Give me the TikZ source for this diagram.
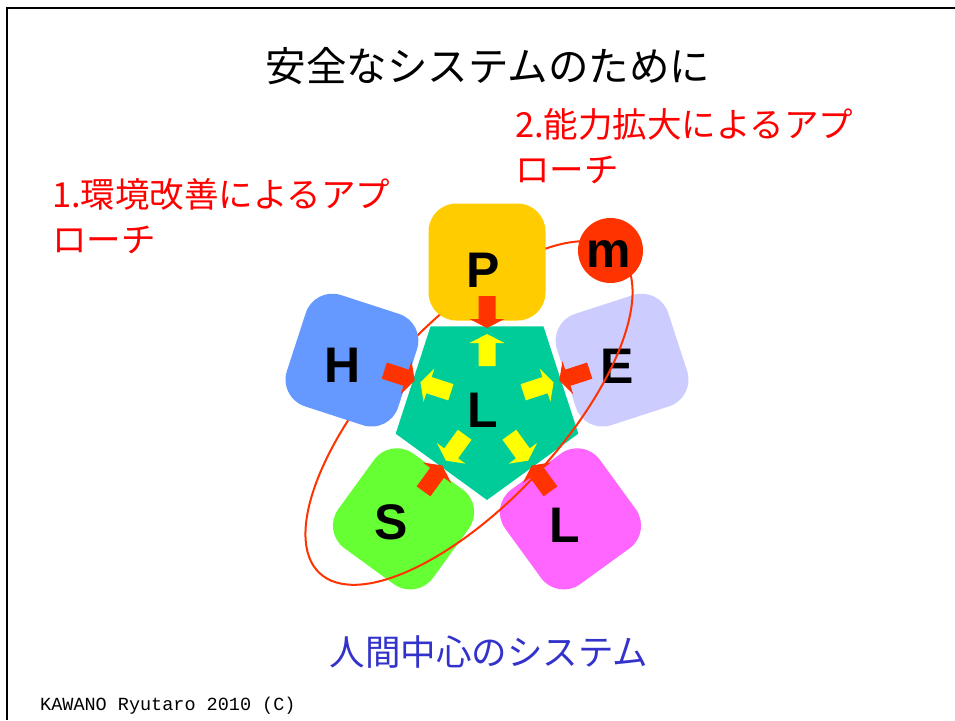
\documentclass[tikz,border=0pt]{standalone}
\usepackage{fontspec}
\setmainfont{Liberation Sans}
\newfontfamily\jp{Noto Sans CJK JP}
\newfontfamily\monof{Liberation Mono}
\usetikzlibrary{calc}
\definecolor{pcol}{HTML}{FFCC00}
\definecolor{mcol}{HTML}{FF3300}
\definecolor{hcol}{HTML}{6699FF}
\definecolor{ecol}{HTML}{CCCCFF}
\definecolor{scol}{HTML}{66FF33}
\definecolor{lcol}{HTML}{FF66FF}
\definecolor{pentcol}{HTML}{00CC99}
\definecolor{arrred}{HTML}{FF3300}
\definecolor{arryel}{HTML}{FFFF00}
\definecolor{txtred}{HTML}{FF0000}
\definecolor{txtblue}{HTML}{3333CC}
\tikzset{
  box/.style={rounded corners=28pt, minimum size=117pt, inner sep=0pt, outer sep=0pt},
  letter/.style={font=\bfseries\fontsize{50}{50}\selectfont, inner sep=0pt, anchor=base},
  jptext/.style={font=\jp\fontsize{#1}{#1}\selectfont, inner sep=0pt},
  redtext/.style={font=\jp\fontsize{34.5}{45}\selectfont, text=txtred, inner sep=0pt, align=left, anchor=base west},
  ringline/.style={draw=arrred, line width=2pt},
  blockarrow/.pic={\fill[#1] (0,-8.5) -- (23,-8.5) -- (23,-17.5) -- (32,0) -- (23,17.5) -- (23,8.5) -- (0,8.5) -- cycle;}
}
\begin{document}
\begin{tikzpicture}[x=1pt,y=1pt]
\useasboundingbox (0,0) rectangle (955,-720);
\fill[white] (0,0) rectangle (955,-720);
\draw[line width=2.5pt] (955,-8) -- (7,-8) -- (7,-720);

% texts (base anchor = baseline of the last line)
\node[jptext=40.5, anchor=base] (title) at (488,-81) {安全なシステムのために};
\node[redtext] (app2) at (515,-182) {2.能力拡大によるアプ\\ローチ};
\node[redtext] (app1) at (52,-252) {1.環境改善によるアプ\\ローチ};
\node[jptext=35.5, anchor=base, text=txtblue] (human) at (489,-665) {人間中心のシステム};
\node[font=\monof\fontsize{18.5}{18.5}\selectfont, anchor=base west, inner sep=0pt] (copy) at (40,-710) {KAWANO Ryutaro 2010 (C)};

% centre of the pentagon
\coordinate (c) at (487,-404);

% boxes under the ring
\node[box, fill=ecol, rotate=18] (E) at ($(c)+(18:142)$) {};
\node[box, fill=scol, rotate=-36] (S) at ($(c)+(234:142)$) {};
\node[box, fill=lcol, rotate=36] (Lb) at ($(c)+(306:142)$) {};
\node[letter] (tE) at (617,-383) {E};
\node[letter] (tS) at (391,-539) {S};
\node[letter] (tLb) at (565,-542) {L};

% pentagon
\fill[pentcol] (c) +(-90:96) -- +(-18:96) -- +(54:96) -- +(126:96) -- +(198:96) -- cycle;

% ring
\draw[ringline, rotate around={47:(469,-413)}] (469,-413) ellipse [x radius=219, y radius=91];

% boxes over the ring
\node[box, fill=hcol, rotate=-18] (H) at ($(c)+(162:142)$) {};
\node[box, fill=pcol] (P) at ($(c)+(90:142)$) {};
\node[circle, fill=mcol, minimum size=65pt, inner sep=0pt] (m) at (610.5,-250.5) {};

% arrows
\foreach \a in {90,162,234,306,18} {
  \pic[rotate=\a+180] at ($(c)+(\a:108)$) {blockarrow=arrred};
  \pic[rotate=\a] at ($(c)+(\a:38)$) {blockarrow=arryel};
}

% letters
\node[letter] (tH) at (343,-382) {H};
\node[letter] (tP) at (483,-287) {P};
\node[letter] (tm) at (609,-267) {m};
\node[letter] (tLc) at (483,-427) {L};
\end{tikzpicture}
\end{document}
